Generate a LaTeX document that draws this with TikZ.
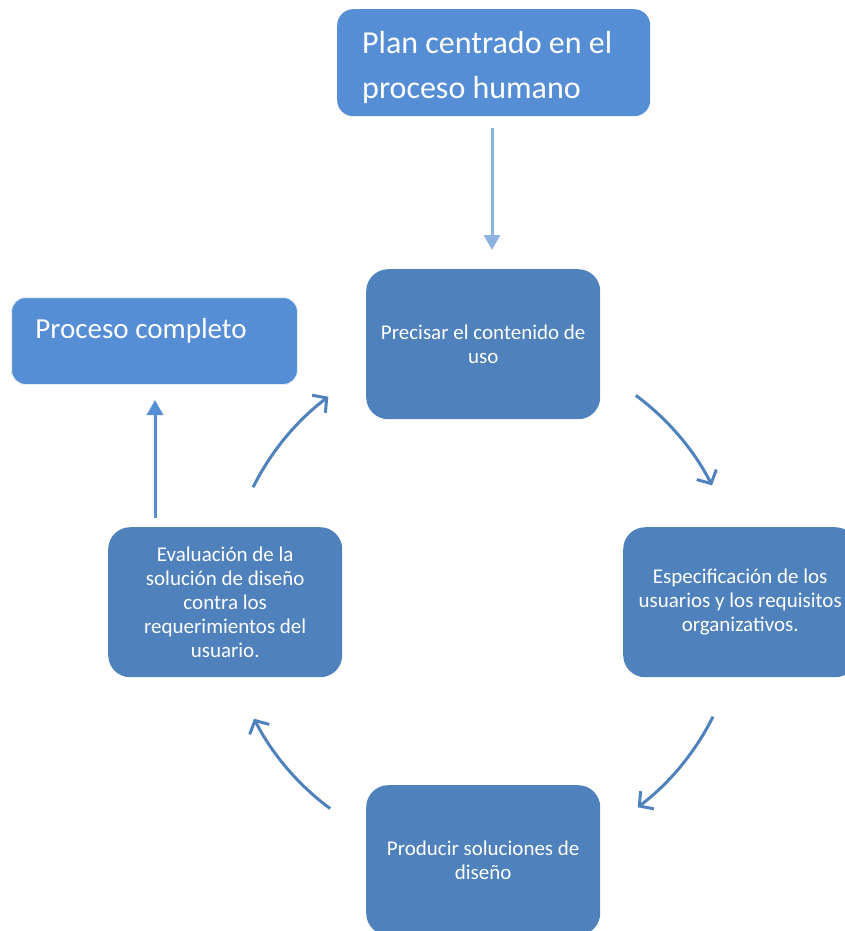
\documentclass[tikz,border=0pt]{standalone}
\usepackage{fontspec}
\setmainfont{Carlito}
\usetikzlibrary{arrows.meta}
\definecolor{darkbox}{HTML}{4F81BD}
\definecolor{lightbox}{HTML}{558ED5}
\definecolor{toparrow}{HTML}{8DB3E2}
\begin{document}
\begin{tikzpicture}[x=1pt,y=1pt,
  darkstep/.style={fill=darkbox, draw=none, rounded corners=22pt, minimum width=234pt, minimum height=150pt,
    text=white, align=center, font=\fontsize{21}{24}\selectfont, inner sep=0pt, anchor=north west},
  lightstep/.style={fill=lightbox, draw=none, text=white, align=flush left, inner sep=0pt, anchor=north west},
  cyclearrow/.style={draw=darkbox, line width=3pt, -{Straight Barb[length=10pt,width=22pt,line width=3pt]}},
  straightarrow/.style={line width=3pt, -{Triangle[length=15pt,width=16pt]}}
]
\useasboundingbox (0,0) rectangle (845,-931);
\begin{scope}
\clip (0,0) rectangle (845,-931);
% top box
\node[lightstep, rounded corners=16pt, minimum width=313pt, minimum height=107pt,
  text width=313pt, font=\fontsize{32}{45}\selectfont, text height=22pt, text depth=40pt] (plan) at (337,-9)
  {\hspace*{25pt}Plan centrado en el\\\hspace*{25pt}proceso humano};
% Proceso completo
\node[lightstep, rounded corners=14pt, draw=white!85!lightbox, line width=1pt, minimum width=286pt,
  text width=286pt, font=\fontsize{29}{30}\selectfont, text height=41pt, text depth=46pt] (completo) at (11,-297)
  {\hspace*{24pt}Proceso completo};
% cycle boxes
\node[darkstep] (precisar) at (366,-269) {Precisar el contenido de\\uso};
\node[darkstep] (espec) at (623,-527) {Especificación de los\\usuarios y los requisitos\\organizativos.};
\node[darkstep] (producir) at (366,-785) {Producir soluciones de\\diseño};
\node[darkstep] (evalua) at (108,-527) {Evaluación de la\\solución de diseño\\contra los\\requerimientos del\\usuario.};
\end{scope}
% center of cycle
\coordinate (c) at (483,-602);
% straight arrows
\draw[straightarrow, draw=toparrow, fill=toparrow] (492,-128) -- (492,-250);
\draw[straightarrow, draw=lightbox, fill=lightbox] (155,-518) -- (155,-400);
% curved arrows
\draw[cyclearrow] ([shift={(53.5:257)}]c) arc[start angle=53.5, end angle=27, radius=257];
\draw[cyclearrow] ([shift={(-26.5:257)}]c) arc[start angle=-26.5, end angle=-53, radius=257];
\draw[cyclearrow] ([shift={(-126.5:257)}]c) arc[start angle=-126.5, end angle=-153, radius=257];
\draw[cyclearrow] ([shift={(153.5:257)}]c) arc[start angle=153.5, end angle=127, radius=257];
\end{tikzpicture}
\end{document}
